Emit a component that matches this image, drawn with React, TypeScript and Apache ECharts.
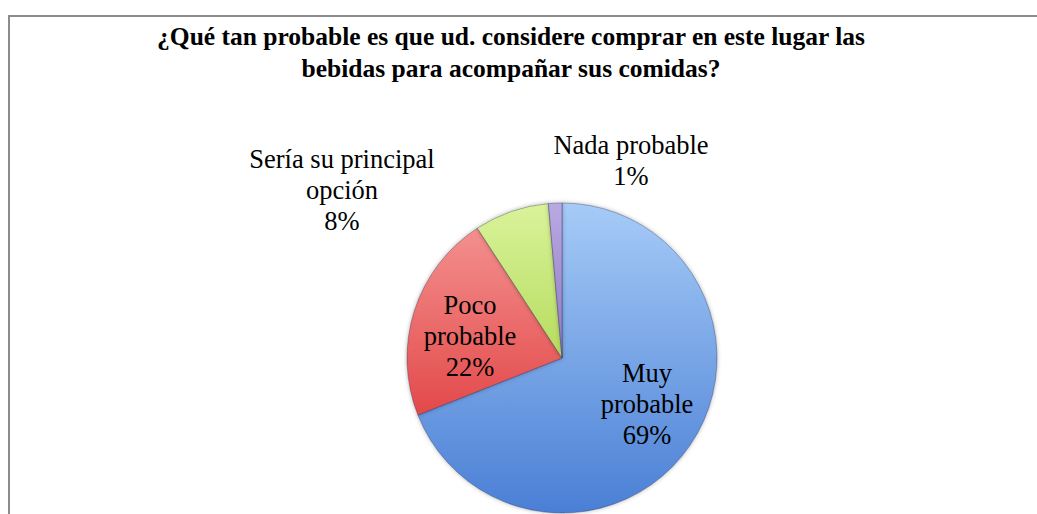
import React, { useEffect, useRef } from "react";
import * as echarts from "echarts";

const titleLines = [
  "¿Qué tan probable es que ud. considere comprar en este lugar las",
  "bebidas para acompañar sus comidas?",
];
const categories = ["Muy\nprobable", "Poco\nprobable", "Sería su principal\nopción", "Nada probable"];
const values = [69.0, 21.8, 7.8, 1.4];
const shownPercents = ["69%", "22%", "8%", "1%"];

const gradients = [
  ["#a6cbf7", "#4a7fd5"],
  ["#f3908e", "#e3494a"],
  ["#d9f39a", "#b6dc5e"],
  ["#b9a9e2", "#8f79c6"],
];
const labelPos = [
  [647, 404],
  [470, 336],
  [342, 190],
  [631, 160],
];

export default function App() {
  const ref = useRef<HTMLDivElement>(null);
  useEffect(() => {
    document.body.style.margin = "0";
    const chart = echarts.init(ref.current!, null, { renderer: "svg" });
    chart.setOption({
      animation: false,
      backgroundColor: "#ffffff",
      title: {
        text: titleLines.join("\n"),
        left: 506,
        top: 15,
        textAlign: "center",
        textStyle: {
          fontFamily: "Liberation Serif",
          fontWeight: "bold",
          fontSize: 25.5,
          lineHeight: 32,
          color: "#000",
        },
      },
      graphic: [
        {
          type: "polyline",
          shape: { points: [[9, 600], [9, 16], [1100, 16]] },
          style: { fill: "none", stroke: "#8c8c8c", lineWidth: 2 },
          silent: true,
        },
      ],
      series: [
        {
          type: "pie",
          center: [562, 358],
          radius: 155,
          startAngle: 90,
          clockwise: true,
          data: categories.map((name, i) => ({
            name,
            value: values[i],
            itemStyle: {
              color: {
                type: "linear",
                x: 0,
                y: 0,
                x2: 0,
                y2: 1,
                colorStops: [
                  { offset: 0, color: gradients[i][0] },
                  { offset: 1, color: gradients[i][1] },
                ],
              },
            },
          })),
          itemStyle: {
            borderColor: "rgba(40,40,80,0.35)",
            borderWidth: 1,
            shadowBlur: 4,
            shadowColor: "rgba(0,0,0,0.3)",
          },
          label: {
            show: true,
            position: "inside",
            formatter: (p: any) => p.name + "\n" + shownPercents[p.dataIndex],
            fontFamily: "Liberation Serif",
            fontSize: 26.5,
            lineHeight: 31,
            color: "#000",
            align: "center",
          },
          labelLine: { show: false },
          labelLayout: (params: any) => ({
            x: labelPos[params.dataIndex][0],
            y: labelPos[params.dataIndex][1],
            align: "center",
            verticalAlign: "middle",
          }),
          emphasis: { disabled: true },
        },
      ],
    });
    return () => chart.dispose();
  }, []);
  return <div ref={ref} style={{ width: 1037, height: 514 }} />;
}
